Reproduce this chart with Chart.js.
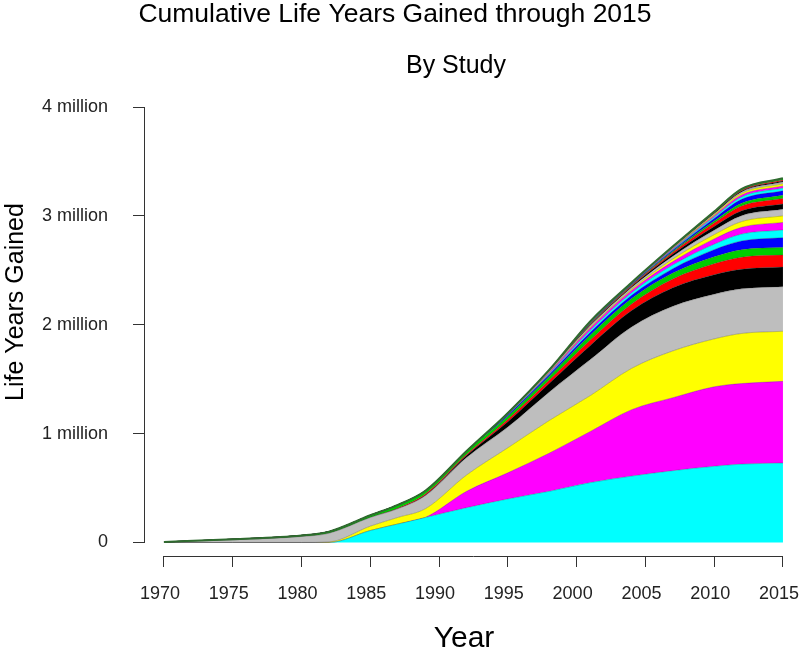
<!DOCTYPE html>
<html>
<head>
<meta charset="utf-8">
<script src="https://cdn.jsdelivr.net/npm/chart.js@4.4.1/dist/chart.umd.min.js"></script>
<style>
  html, body { margin: 0; padding: 0; background: #fff; }
  #wrap { width: 800px; height: 654px; }
</style>
</head>
<body>
<div id="wrap"><canvas id="lyChart"></canvas></div>
<script>
const years = [1970, 1975, 1980, 1982, 1985, 1987, 1989, 1992, 1995, 1998, 2001, 2004, 2007, 2010, 2012, 2015];

const study01 = [0, 0, 0, 0, .11, .17, .23, .32, .40, .47, .55, .61, .66, .70, .72, .73];
const study02 = [0, 0, 0, 0, 0, 0, 0, .15, .24, .35, .47, .61, .67, .73, .74, .75];
const study03 = [0, 0, 0, .005, .04, .06, .08, .15, .23, .30, .33, .38, .43, .44, .46, .46];
const study04 = [.005, .025, .055, .08, .08, .08, .12, .16, .19, .26, .33, .38, .41, .41, .41, .41];
const study05 = [0, 0, 0, 0, 0, 0, .005, .02, .05, .08, .13, .15, .17, .18, .18, .18];
const study06 = [0, 0, 0, 0, 0, .005, .01, .01, .02, .03, .05, .06, .08, .10, .11, .11];
const study07 = [0, .005, .01, .015, .02, .03, .03, .03, .03, .035, .045, .05, .055, .065, .07, .07];
const study08 = [0, 0, 0, 0, 0, 0, 0, 0, .01, .015, .025, .03, .04, .065, .08, .09];
const study09 = [0, 0, 0, 0, 0, 0, 0, 0, .005, .01, .02, .025, .035, .05, .063, .07];
const study10 = [0, 0, 0, 0, 0, 0, 0, 0, .005, .01, .02, .02, .03, .048, .062, .07];
const study11 = [0, 0, 0, 0, 0, 0, 0, 0, 0, .005, .01, .012, .025, .04, .053, .06];
const study12 = [0, 0, 0, 0, 0, 0, 0, 0, .005, .008, .012, .015, .025, .04, .054, .06];
const study13 = [0, 0, 0, 0, 0, 0, 0, 0, 0, .003, .008, .01, .02, .035, .045, .05];
const study14 = [0, 0, 0, 0, 0, 0, 0, 0, 0, .002, .006, .008, .016, .032, .044, .05];
const study15 = [0, 0, 0, 0, 0, 0, 0, 0, .005, .005, .006, .006, .01, .018, .026, .03];
const study16 = [0, 0, 0, 0, 0, 0, 0, 0, 0, 0, .004, .005, .01, .022, .035, .04];
const study17 = [0, 0, 0, 0, 0, 0, 0, 0, 0, 0, .003, .003, .008, .015, .022, .025];
const study18 = [0, 0, 0, 0, 0, 0, 0, 0, 0, 0, .002, .002, .006, .012, .018, .02];
const study19 = [0, 0, 0, 0, 0, 0, 0, 0, 0, 0, .002, .002, .005, .01, .016, .02];
const study20 = [0, 0, 0, 0, 0, 0, 0, 0, 0, .002, .004, .004, .005, .008, .012, .015];
const study21 = [0, 0, 0, 0, 0, 0, 0, 0, 0, 0, .002, .002, .003, .006, .008, .01];
const study22 = [0, 0, 0, 0, 0, 0, 0, 0, 0, 0, .002, .002, .003, .006, .008, .01];
const study23 = [0, 0, 0, 0, 0, 0, 0, 0, 0, 0, .002, .002, .003, .005, .008, .01];
const study24 = [0, 0, 0, 0, 0, 0, 0, 0, 0, 0, 0, 0, .001, .003, .004, .005];

const xTicks = [1970, 1975, 1980, 1985, 1990, 1995, 2000, 2005, 2010, 2015];
const yTicks = [0, 1, 2, 3, 4];
const yTickLabels = ['0', '1 million', '2 million', '3 million', '4 million'];

const studies = [study01, study02, study03, study04, study05, study06, study07, study08,
  study09, study10, study11, study12, study13, study14, study15, study16,
  study17, study18, study19, study20, study21, study22, study23, study24];

// R default palette order, starting at cyan
const PALETTE = ['#00FFFF', '#FF00FF', '#FFFF00', '#BEBEBE', '#000000', '#FF0000', '#00CD00', '#0000FF'];
const FONT = '"Liberation Sans", Arial, Helvetica, sans-serif';

const datasets = studies.map((vals, i) => ({
  label: 'Study ' + (i + 1),
  data: years.map((yr, j) => ({ x: yr, y: vals[j] })),
  backgroundColor: PALETTE[i % PALETTE.length],
  borderColor: 'rgba(40,40,40,0.35)',
  borderWidth: 0.8,
  fill: i === 0 ? 'origin' : '-1',
  pointRadius: 0,
  cubicInterpolationMode: 'monotone',
  stack: 'studies'
}));

// dark green outline along the top of the stack
const totals = years.map((yr, j) => studies.reduce((s, a) => s + a[j], 0));
datasets.push({
  label: 'total',
  data: years.map((yr, j) => ({ x: yr, y: totals[j] })),
  stack: 'outline',
  fill: false,
  borderColor: '#2f6b2f',
  borderWidth: 2,
  pointRadius: 0,
  cubicInterpolationMode: 'monotone',
  order: -1
});

const rStyle = {
  id: 'rStyle',
  afterDraw(chart) {
    const { ctx, chartArea, scales: { x, y } } = chart;
    ctx.save();
    ctx.strokeStyle = '#333';
    ctx.lineWidth = 1;
    ctx.beginPath();
    const xb = Math.round(chartArea.bottom) + 0.5;
    ctx.moveTo(x.getPixelForValue(xTicks[0]), xb);
    ctx.lineTo(x.getPixelForValue(xTicks[xTicks.length - 1]), xb);
    const yl = Math.round(chartArea.left) - 0.5;
    ctx.moveTo(yl, y.getPixelForValue(yTicks[0]));
    ctx.lineTo(yl, y.getPixelForValue(yTicks[yTicks.length - 1]));
    ctx.stroke();

    ctx.fillStyle = '#000';
    ctx.textAlign = 'center';
    ctx.textBaseline = 'alphabetic';
    ctx.font = '26.5px ' + FONT;
    ctx.fillText('Cumulative Life Years Gained through 2015', 395, 22);
    ctx.font = '25px ' + FONT;
    ctx.fillText('By Study', 456, 73);
    ctx.font = '30px ' + FONT;
    ctx.fillText('Year', 464, 647);
    ctx.translate(23, 302);
    ctx.rotate(-Math.PI / 2);
    ctx.font = '25px ' + FONT;
    ctx.fillText('Life Years Gained', 0, 0);
    ctx.restore();
  }
};

new Chart(document.getElementById('lyChart'), {
  type: 'line',
  data: { datasets },
  options: {
    responsive: true,
    maintainAspectRatio: false,
    animation: false,
    layout: { padding: { left: 35, top: 107, right: 0, bottom: 0 } },
    plugins: {
      legend: { display: false },
      tooltip: { enabled: false },
      title: { display: false }
    },
    scales: {
      x: {
        type: 'linear',
        min: 1968.62,
        max: 2016.24,
        afterBuildTicks: s => { s.ticks = xTicks.map(v => ({ value: v })); },
        afterFit: s => { s.height = 98; s.paddingLeft = 0; s.paddingRight = 0; },
        ticks: {
          font: { size: 18, family: FONT },
          color: '#222',
          padding: 16,
          labelOffset: -4,
          maxRotation: 0,
          autoSkip: false,
          callback: v => String(v)
        },
        grid: { drawOnChartArea: false, drawTicks: true, tickLength: 11, color: '#333' },
        border: { display: false }
      },
      y: {
        stacked: true,
        min: -0.124,
        max: 4,
        afterBuildTicks: s => { s.ticks = yTicks.map(v => ({ value: v })); },
        afterFit: s => { s.width = 110; s.paddingTop = 0; s.paddingBottom = 0; },
        ticks: {
          font: { size: 18, family: FONT },
          color: '#222',
          padding: 25,
          callback: (v, i) => yTickLabels[i]
        },
        grid: { drawOnChartArea: false, drawTicks: true, tickLength: 12, color: '#333' },
        border: { display: false }
      }
    }
  },
  plugins: [rStyle]
});
</script>
</body>
</html>
